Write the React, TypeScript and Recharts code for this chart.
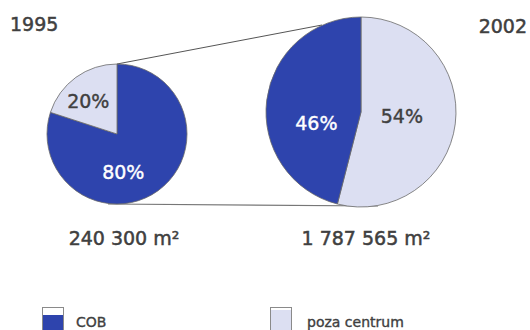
import { PieChart, Pie, Cell, Legend } from "recharts";

// shares of office space (%) in each year
const categories = ["COB", "poza centrum"];
const share1995 = [80, 20];
const share2002 = [46, 54];
const years = ["1995", "2002"];
const areaLabels = ["240 300 m²", "1 787 565 m²"];

const BLUE = "#2e44ad";
const LIGHT = "#dcdff2";
const TEXT = "#404040";
const FONT = "'DejaVu Sans', sans-serif";

const data1995 = categories.map((name, i) => ({ name, value: share1995[i] }));
// 2002 pie runs the light slice first, clockwise from the top
const data2002 = [
  { name: categories[1], value: share2002[1] },
  { name: categories[0], value: share2002[0] },
];

const colorOf = (name: string) => (name === "COB" ? BLUE : LIGHT);

// label offsets relative to the pie centre, in units of the radius
const labelOffsets: Record<string, [number, number]> = {
  "1995-COB": [0.09, 0.54],
  "1995-poza centrum": [-0.41, -0.47],
  "2002-COB": [-0.47, 0.12],
  "2002-poza centrum": [0.43, 0.04],
};

// slightly heavier strokes on the text to get a medium weight
const textStyle = { fontFamily: FONT, fontSize: 19, fill: TEXT, stroke: TEXT, strokeWidth: 0.5 };

const makeLabel = (year: string) => (props: any) => {
  const { cx, cy, outerRadius, value, payload } = props;
  const name = payload?.name ?? props.name;
  const [dx, dy] = labelOffsets[`${year}-${name}`];
  const color = name === "COB" ? "#ffffff" : TEXT;
  return (
    <text
      x={cx + dx * outerRadius}
      y={cy + dy * outerRadius}
      textAnchor="middle"
      dominantBaseline="central"
      {...textStyle}
      fill={color}
      stroke={color}
      strokeWidth={0.4}
    >
      {`${value}%`}
    </text>
  );
};

const renderLegend = () => (
  <div style={{ position: "relative", width: 530, height: 40, fontFamily: FONT, color: TEXT, fontSize: 14, WebkitTextStroke: "0.35px #404040" }}>
    {categories.map((name, i) => (
      <div key={name} style={{ position: "absolute", left: i === 0 ? 42 : 270, top: 0, display: "flex", alignItems: "center" }}>
        <svg width={22} height={24}>
          <rect x={0.5} y={0.5} width={21} height={23} fill="#ffffff" stroke="#8a8a8a" />
          <rect x={1} y={name === "COB" ? 8 : 3} width={20} height={name === "COB" ? 15 : 20} fill={colorOf(name)} />
        </svg>
        <span style={{ marginLeft: name === "COB" ? 12 : 15, marginTop: 5 }}>{name}</span>
      </div>
    ))}
  </div>
);

export default function App() {
  return (
    <div style={{ position: "absolute", left: 0, top: 0, width: 530, height: 330, background: "#fff", overflow: "hidden" }}>
      <PieChart width={530} height={330} margin={{ top: 0, right: 0, bottom: 0, left: 0 }}>
        {/* connector lines between the two pies */}
        <line x1={117} y1={64} x2={322} y2={25} stroke="#555" strokeWidth={1} />
        <line x1={108} y1={204} x2={378} y2={206} stroke="#777" strokeWidth={1.2} />
        <Pie
          data={data1995}
          dataKey="value"
          cx={117}
          cy={134}
          outerRadius={70}
          startAngle={90}
          endAngle={-270}
          stroke="#6a6a6a"
          strokeWidth={0.8}
          label={makeLabel("1995")}
          labelLine={false}
          isAnimationActive={false}
        >
          {data1995.map((d) => (
            <Cell key={d.name} fill={colorOf(d.name)} />
          ))}
        </Pie>
        <Pie
          data={data2002}
          dataKey="value"
          cx={361}
          cy={112}
          outerRadius={95}
          startAngle={90}
          endAngle={-270}
          stroke="#6a6a6a"
          strokeWidth={0.8}
          label={makeLabel("2002")}
          labelLine={false}
          isAnimationActive={false}
        >
          {data2002.map((d) => (
            <Cell key={d.name} fill={colorOf(d.name)} />
          ))}
        </Pie>
        <text x={10} y={31} {...textStyle}>{years[0]}</text>
        <text x={527} y={33} textAnchor="end" {...textStyle}>{years[1]}</text>
        <text x={124} y={245} textAnchor="middle" {...textStyle}>{areaLabels[0]}</text>
        <text x={366} y={245} textAnchor="middle" {...textStyle}>{areaLabels[1]}</text>
        <Legend content={renderLegend} wrapperStyle={{ left: 0, top: 307, width: 530 }} />
      </PieChart>
    </div>
  );
}
